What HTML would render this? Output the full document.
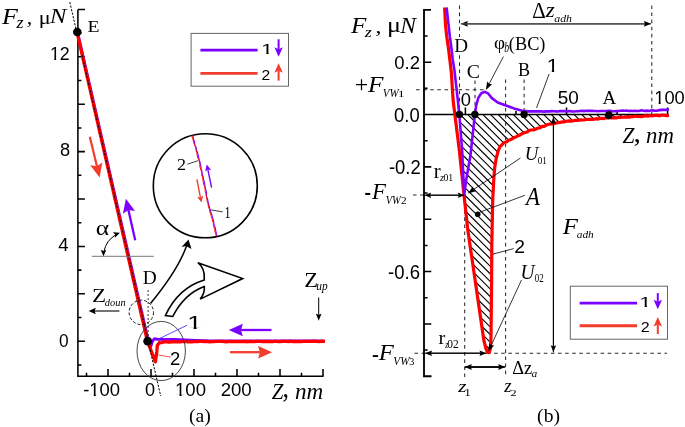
<!DOCTYPE html>
<html><head><meta charset="utf-8"><style>
html,body{margin:0;padding:0;background:#fff;}
svg{display:block;will-change:transform;}
text{font-size:100px;}
.LS{font-family:"Liberation Sans", sans-serif;}
.LR{font-family:"Liberation Serif", serif;}
.ax{stroke:#000;stroke-width:1.55;fill:none;stroke-linecap:butt;}
</style></head><body>
<svg width="685" height="427" viewBox="0 0 685 427">
<rect width="685" height="427" fill="#fff"/>
<path d="M77.9,9.40 H85.0 M77.9,9.40 V376.3 H323.5" class="ax"/>
<path d="M77.9,364.90 h3.5 M77.9,341.20 h7.0 M77.9,317.50 h3.5 M77.9,293.80 h7.0 M77.9,270.10 h3.5 M77.9,246.40 h7.0 M77.9,222.70 h3.5 M77.9,199.00 h7.0 M77.9,175.30 h3.5 M77.9,151.60 h7.0 M77.9,127.90 h3.5 M77.9,104.20 h7.0 M77.9,80.50 h3.5 M77.9,56.80 h7.0 M77.9,33.10 h3.5 M86.50,376.3 v-3.6 M108.00,376.3 v-7.2 M129.50,376.3 v-3.6 M151.00,376.3 v-7.2 M172.50,376.3 v-3.6 M194.00,376.3 v-7.2 M215.50,376.3 v-3.6 M237.00,376.3 v-7.2 M258.50,376.3 v-3.6 M280.00,376.3 v-7.2 M301.50,376.3 v-3.6 M323.00,376.3 v-7.2" class="ax"/>
<rect x="191.1" y="33.4" width="97.4" height="52.8" fill="none" stroke="#666" stroke-width="1"/>
<path d="M200.4,50.1 H257.6" stroke="#7a00ff" stroke-width="2.8"/>
<path d="M200.4,73.4 H257.6" stroke="#f23c2c" stroke-width="2.9"/>
<path d="M278.60,39.30 L278.60,49.30" stroke="#7a00ff" stroke-width="2" fill="none"/><path d="M278.60,56.80 L274.40,47.30 L278.60,49.30 L282.80,47.30 Z" fill="#7a00ff"/>
<path d="M278.60,80.60 L278.60,70.70" stroke="#f23c2c" stroke-width="2" fill="none"/><path d="M278.60,63.20 L282.80,72.70 L278.60,70.70 L274.40,72.70 Z" fill="#f23c2c"/>
<polyline points="77.90,34.00 148.30,341.20 150.50,347.00 152.50,341.00 154.50,338.80 157.50,339.30 175.00,339.60 190.00,340.20 210.00,340.90 323.00,341.00" fill="none" stroke="#7f00ff" stroke-width="3" stroke-linejoin="round"/>
<polyline points="77.00,32.00 77.45,33.96 77.89,35.91 78.34,37.87 78.78,39.83 79.23,41.78 79.67,43.74 80.12,45.70 80.56,47.66 81.01,49.61 81.46,51.57 81.90,53.53 82.35,55.48 82.79,57.44 83.24,59.40 83.68,61.35 84.13,63.31 84.57,65.27 85.02,67.23 85.47,69.18 85.91,71.14 86.36,73.10 86.80,75.05 87.25,77.01 87.69,78.97 88.14,80.92 88.58,82.88 89.03,84.84 89.48,86.79 89.92,88.75 90.37,90.71 90.81,92.67 91.26,94.62 91.70,96.58 92.15,98.54 92.59,100.49 93.04,102.45 93.49,104.41 93.93,106.36 94.38,108.32 94.82,110.28 95.27,112.24 95.71,114.19 96.16,116.15 96.61,118.11 97.05,120.06 97.50,122.02 97.94,123.98 98.39,125.93 98.83,127.89 99.28,129.85 99.72,131.81 100.17,133.76 100.62,135.72 101.06,137.68 101.51,139.63 101.95,141.59 102.40,143.55 102.84,145.50 103.29,147.46 103.73,149.42 104.18,151.37 104.63,153.33 105.07,155.29 105.52,157.25 105.96,159.20 106.41,161.16 106.85,163.12 107.30,165.07 107.74,167.03 108.19,168.99 108.64,170.94 109.08,172.90 109.53,174.86 109.97,176.82 110.42,178.77 110.86,180.73 111.31,182.69 111.75,184.64 112.20,186.60 112.65,188.56 113.09,190.51 113.54,192.47 113.98,194.43 114.43,196.38 114.87,198.34 115.32,200.30 115.76,202.26 116.21,204.21 116.66,206.17 117.10,208.13 117.55,210.08 117.99,212.04 118.44,214.00 118.88,215.95 119.33,217.91 119.77,219.87 120.22,221.83 120.67,223.78 121.11,225.74 121.56,227.70 122.00,229.65 122.45,231.61 122.89,233.57 123.34,235.52 123.78,237.48 124.23,239.44 124.68,241.39 125.12,243.35 125.57,245.31 126.01,247.27 126.46,249.22 126.90,251.18 127.35,253.14 127.79,255.09 128.24,257.05 128.69,259.01 129.13,260.96 129.58,262.92 130.02,264.88 130.47,266.84 130.91,268.79 131.36,270.75 131.81,272.71 132.25,274.66 132.70,276.62 133.14,278.58 133.59,280.53 134.03,282.49 134.48,284.45 134.92,286.41 135.37,288.36 135.82,290.32 136.26,292.28 136.71,294.23 137.15,296.19 137.60,298.15 138.04,300.10 138.49,302.06 138.93,304.02 139.38,305.97 139.83,307.93 140.27,309.89 140.72,311.85 141.16,313.80 141.61,315.76 142.05,317.72 142.50,319.67 142.94,321.63 143.39,323.59 143.84,325.54 144.28,327.50 144.73,329.46 145.17,331.42 145.62,333.37 146.06,335.33 146.51,337.29 146.95,339.24 147.40,341.20 148.13,343.07 148.85,344.95 149.58,346.82 150.31,348.69 151.04,350.56 151.76,352.44 152.49,354.31 153.22,356.18 153.95,358.05 154.67,359.93 155.40,361.80 155.75,359.35 156.10,356.90 156.45,354.45 156.80,352.00 156.97,349.83 157.13,347.67 157.30,345.50 159.50,342.60 159.50,342.83 161.67,342.59 163.83,341.91 166.00,341.69 168.00,342.05 170.00,341.98 172.00,341.93 174.00,341.73 176.00,341.86 178.00,341.85 180.00,341.82 182.00,341.59 184.00,341.71 186.00,341.67 188.00,341.82 190.00,341.94 192.00,341.90 194.00,341.68 196.00,341.61 198.00,341.50 200.00,341.37 202.02,341.36 204.03,341.57 206.05,341.49 208.06,341.52 210.08,341.77 212.10,341.58 214.11,341.60 216.13,341.43 218.15,341.32 220.16,341.46 222.18,341.37 224.19,341.55 226.21,341.79 228.23,341.62 230.24,341.37 232.26,341.72 234.27,341.67 236.29,341.63 238.31,341.71 240.32,341.63 242.34,341.64 244.35,341.42 246.37,341.73 248.39,341.71 250.40,341.31 252.42,341.60 254.44,341.58 256.45,341.45 258.47,341.47 260.48,341.45 262.50,341.66 264.52,341.45 266.53,341.61 268.55,341.36 270.56,341.62 272.58,341.63 274.60,341.40 276.61,341.45 278.63,341.62 280.65,341.52 282.66,341.39 284.68,341.26 286.69,341.30 288.71,341.49 290.73,341.22 292.74,341.58 294.76,341.26 296.77,341.57 298.79,341.27 300.81,341.59 302.82,341.46 304.84,341.35 306.85,341.35 308.87,341.41 310.89,341.38 312.90,341.23 314.92,341.18 316.94,341.33 318.95,341.53 320.97,341.37 322.98,341.09 325.00,341.30" fill="none" stroke="#ff0000" stroke-width="3.3" stroke-linejoin="round"/>
<path d="M69.8,2.1 L76.24,30 M82.0,55 L160.7,396" stroke="#000" stroke-width="1" stroke-dasharray="2.2 1.4" fill="none"/>
<circle cx="77.3" cy="32.0" r="4.3" fill="#000"/>
<circle cx="147.7" cy="341.2" r="4.4" fill="#000"/>
<ellipse cx="161.2" cy="351.0" rx="24.2" ry="29.6" fill="none" stroke="#333" stroke-width="0.9"/>
<path d="M158,339.2 L187,325.3" stroke="#2222ff" stroke-width="0.8" fill="none"/>
<path d="M158.5,355 L170.6,357.1" stroke="#ff2020" stroke-width="0.8" fill="none"/>
<path d="M89.80,136.80 L96.91,166.32" stroke="#f23c2c" stroke-width="2.2" fill="none"/><path d="M99.60,177.50 L90.29,165.34 L96.91,166.32 L102.35,162.44 Z" fill="#f23c2c"/>
<path d="M135.20,240.30 L128.41,209.92" stroke="#7a00ff" stroke-width="2.3" fill="none"/><path d="M125.90,198.70 L135.01,211.01 L128.41,209.92 L122.90,213.72 Z" fill="#7a00ff"/>
<path d="M271.50,330.00 L241.00,330.00" stroke="#7a00ff" stroke-width="2.3" fill="none"/><path d="M228.80,330.00 L242.80,323.70 L241.00,330.00 L242.80,336.30 Z" fill="#7a00ff"/>
<path d="M230.00,352.20 L259.90,352.20" stroke="#f23c2c" stroke-width="2.3" fill="none"/><path d="M272.10,352.20 L258.10,358.50 L259.90,352.20 L258.10,345.90 Z" fill="#f23c2c"/>
<path d="M91.8,256.3 H153.8" stroke="#777" stroke-width="1" fill="none"/>
<path d="M115.50,234.95 A25.0,25.0 0 0 0 104.00,251.33" stroke="#000" stroke-width="1" fill="none"/>
<path d="M120.00,232.79 L114.84,237.63 L115.01,234.59 L112.93,232.37 Z" fill="#000"/>
<path d="M103.50,256.30 L100.70,249.80 L103.50,251.00 L106.30,249.80 Z" fill="#000"/>
<path d="M148.1,290 V337" stroke="#000" stroke-width="0.8" stroke-dasharray="2 2" fill="none"/>
<circle cx="141.3" cy="312.4" r="12.2" fill="none" stroke="#000" stroke-width="0.9" stroke-dasharray="3 2"/>
<path d="M119.40,311.00 L94.70,311.00" stroke="#000" stroke-width="1.1" fill="none"/><path d="M88.70,311.00 L95.70,307.80 L94.70,311.00 L95.70,314.20 Z" fill="#000"/>
<path d="M318.70,297.40 L318.70,314.80" stroke="#000" stroke-width="1" fill="none"/><path d="M318.70,320.80 L315.90,313.80 L318.70,314.80 L321.50,313.80 Z" fill="#000"/>
<path d="M150.5,303.5 Q178,270 186.5,246" stroke="#000" stroke-width="1.5" fill="none"/>
<path d="M188.5,239.5 L181.5,247 L186,246 L191.5,249 Z" fill="#000"/>
<path d="M165.4,315.5 Q178,288 204.3,280 Q205.2,268 197.8,262.7 L242.7,278.5 L200.2,299.1 Q205,293 204.3,286.5 Q184,294 172.8,316.5 Z" fill="#fff" stroke="#000" stroke-width="1.6" stroke-linejoin="miter"/>
<circle cx="205.3" cy="185.8" r="52" fill="#fff" stroke="#000" stroke-width="1.6"/>
<polyline points="192.57,135.50 193.22,137.20 193.54,138.90 194.14,140.60 194.60,142.30 194.65,144.00 195.11,145.75 196.19,147.50 196.28,149.25 196.76,151.00 197.70,152.50 197.73,154.00 198.39,155.50 198.53,157.00 199.05,158.50 199.11,160.00 199.77,161.50 200.26,163.00 200.34,164.50 200.82,166.00 201.09,167.50 200.99,169.00 201.81,170.50 202.01,172.00 202.16,173.50 202.32,175.00 203.23,176.60 203.27,178.20 203.76,179.80 204.20,181.40 204.40,183.00 204.92,184.75 204.93,186.50 205.59,188.25 205.71,190.00 206.35,191.67 206.62,193.33 206.37,195.00 206.70,196.67 207.05,198.33 207.88,200.00 207.96,201.67 208.54,203.33 208.76,205.00 209.36,206.67 209.72,208.33 210.15,210.00 210.78,211.67 211.24,213.33 211.93,215.00 212.24,216.67 212.88,218.33 213.30,220.00 213.77,221.60 213.93,223.20 213.95,224.80 214.82,226.40 215.28,228.00 215.61,229.60 215.76,231.20 216.24,232.80 216.27,234.40 216.85,236.00" stroke="#7f00ff" stroke-width="1.1" fill="none"/>
<polyline points="191.92,135.50 192.26,137.20 192.91,138.90 193.18,140.60 193.56,142.30 194.23,144.00 195.09,145.75 195.51,147.50 195.99,149.25 196.11,151.00 196.73,152.50 196.94,154.00 197.27,155.50 197.62,157.00 198.10,158.50 199.00,160.00 199.26,161.50 199.56,163.00 199.89,164.50 199.79,166.00 200.19,167.50 200.74,169.00 201.14,170.50 201.55,172.00 201.92,173.50 201.71,175.00 202.39,176.60 202.76,178.20 202.96,179.80 203.05,181.40 203.58,183.00 203.69,184.75 204.65,186.50 204.98,188.25 205.13,190.00 205.26,191.67 205.99,193.33 206.05,195.00 206.57,196.67 206.84,198.33 206.91,200.00 207.29,201.67 207.87,203.33 208.20,205.00 208.46,206.67 209.01,208.33 209.82,210.00 209.75,211.67 210.22,213.33 211.09,215.00 211.31,216.67 211.96,218.33 212.38,220.00 212.67,221.60 213.51,223.20 213.33,224.80 213.86,226.40 214.09,228.00 214.77,229.60 214.90,231.20 215.34,232.80 215.99,234.40 216.20,236.00" stroke="#ff0000" stroke-width="1.0" fill="none"/>
<path d="M187.4,164.2 L198,160.7" stroke="#000" stroke-width="0.75"/>
<path d="M210.6,209.8 L222.8,211.9" stroke="#000" stroke-width="0.75"/>
<path d="M211.60,187.70 L207.85,169.59" stroke="#7a00ff" stroke-width="1.4" fill="none"/><path d="M206.80,164.50 L211.15,170.24 L207.85,169.59 L205.08,171.49 Z" fill="#7a00ff"/>
<path d="M196.90,179.30 L200.41,197.40" stroke="#f23c2c" stroke-width="1.4" fill="none"/><path d="M201.40,202.50 L197.12,196.71 L200.41,197.40 L203.21,195.53 Z" fill="#f23c2c"/>
<clipPath id="hc"><polygon points="459.30,114.50 640.00,114.50 635.00,116.40 608.00,118.00 600.00,118.60 581.00,119.90 560.00,122.30 547.80,124.80 538.40,128.10 529.10,130.80 519.70,135.20 510.30,139.80 503.30,143.40 499.80,147.00 498.00,151.50 496.20,158.60 494.80,167.00 493.90,177.00 492.70,200.00 492.10,230.00 491.80,245.00 491.60,280.00 491.00,338.00 490.40,348.50 489.20,352.60 487.60,352.40 485.90,348.50 483.80,340.00 475.10,280.00 467.80,230.00 464.00,195.00 462.10,150.00"/></clipPath>
<path d="M440.00,-217.20 L680.00,22.80 M440.00,-209.60 L680.00,30.40 M440.00,-202.00 L680.00,38.00 M440.00,-194.40 L680.00,45.60 M440.00,-186.80 L680.00,53.20 M440.00,-179.20 L680.00,60.80 M440.00,-171.60 L680.00,68.40 M440.00,-164.00 L680.00,76.00 M440.00,-156.40 L680.00,83.60 M440.00,-148.80 L680.00,91.20 M440.00,-141.20 L680.00,98.80 M440.00,-133.60 L680.00,106.40 M440.00,-126.00 L680.00,114.00 M440.00,-118.40 L680.00,121.60 M440.00,-110.80 L680.00,129.20 M440.00,-103.20 L680.00,136.80 M440.00,-95.60 L680.00,144.40 M440.00,-88.00 L680.00,152.00 M440.00,-80.40 L680.00,159.60 M440.00,-72.80 L680.00,167.20 M440.00,-65.20 L680.00,174.80 M440.00,-57.60 L680.00,182.40 M440.00,-50.00 L680.00,190.00 M440.00,-42.40 L680.00,197.60 M440.00,-34.80 L680.00,205.20 M440.00,-27.20 L680.00,212.80 M440.00,-19.60 L680.00,220.40 M440.00,-12.00 L680.00,228.00 M440.00,-4.40 L680.00,235.60 M440.00,3.20 L680.00,243.20 M440.00,10.80 L680.00,250.80 M440.00,18.40 L680.00,258.40 M440.00,26.00 L680.00,266.00 M440.00,33.60 L680.00,273.60 M440.00,41.20 L680.00,281.20 M440.00,48.80 L680.00,288.80 M440.00,56.40 L680.00,296.40 M440.00,64.00 L680.00,304.00 M440.00,71.60 L680.00,311.60 M440.00,79.20 L680.00,319.20 M440.00,86.80 L680.00,326.80 M440.00,94.40 L680.00,334.40 M440.00,102.00 L680.00,342.00 M440.00,109.60 L680.00,349.60 M440.00,117.20 L680.00,357.20 M440.00,124.80 L680.00,364.80 M440.00,132.40 L680.00,372.40 M440.00,140.00 L680.00,380.00 M440.00,147.60 L680.00,387.60 M440.00,155.20 L680.00,395.20 M440.00,162.80 L680.00,402.80 M440.00,170.40 L680.00,410.40 M440.00,178.00 L680.00,418.00 M440.00,185.60 L680.00,425.60 M440.00,193.20 L680.00,433.20 M440.00,200.80 L680.00,440.80 M440.00,208.40 L680.00,448.40 M440.00,216.00 L680.00,456.00 M440.00,223.60 L680.00,463.60 M440.00,231.20 L680.00,471.20 M440.00,238.80 L680.00,478.80 M440.00,246.40 L680.00,486.40 M440.00,254.00 L680.00,494.00 M440.00,261.60 L680.00,501.60 M440.00,269.20 L680.00,509.20 M440.00,276.80 L680.00,516.80 M440.00,284.40 L680.00,524.40 M440.00,292.00 L680.00,532.00 M440.00,299.60 L680.00,539.60 M440.00,307.20 L680.00,547.20 M440.00,314.80 L680.00,554.80 M440.00,322.40 L680.00,562.40 M440.00,330.00 L680.00,570.00 M440.00,337.60 L680.00,577.60 M440.00,345.20 L680.00,585.20 M440.00,352.80 L680.00,592.80 M440.00,360.40 L680.00,600.40 M440.00,368.00 L680.00,608.00 M440.00,375.60 L680.00,615.60 M440.00,383.20 L680.00,623.20" stroke="#000" stroke-width="1.15" clip-path="url(#hc)" fill="none"/>
<path d="M459.5,5.5 V114" stroke="#2a2a2a" stroke-width="1.05" stroke-dasharray="3.6 3.5" fill="none"/>
<path d="M464.7,196 V377" stroke="#2a2a2a" stroke-width="1.05" stroke-dasharray="3.6 3.5" fill="none"/>
<path d="M505.6,79.5 V377" stroke="#2a2a2a" stroke-width="1.05" stroke-dasharray="3.6 3.5" fill="none"/>
<path d="M475.0,80.5 V114" stroke="#2a2a2a" stroke-width="1.05" stroke-dasharray="3.6 3.5" fill="none"/>
<path d="M524.1,79.5 V114" stroke="#2a2a2a" stroke-width="1.05" stroke-dasharray="3.6 3.5" fill="none"/>
<path d="M651.8,5.4 V114" stroke="#2a2a2a" stroke-width="1.05" stroke-dasharray="3.6 3.5" fill="none"/>
<path d="M416,89.7 H485.4" stroke="#2a2a2a" stroke-width="1.05" stroke-dasharray="3.6 3.5" fill="none"/>
<path d="M413,195 H424" stroke="#2a2a2a" stroke-width="1.05" stroke-dasharray="3.6 3.5" fill="none"/>
<path d="M414.5,353.3 H424 M487,353.3 H667" stroke="#2a2a2a" stroke-width="1.05" stroke-dasharray="3.6 3.5" fill="none"/>
<path d="M431.0,9.87 H424.0 V376.25 H431.5" class="ax" style="stroke-width:1.85"/>
<path d="M424.0,350.08 h3.6 M424.0,323.91 h7.3 M424.0,297.74 h3.6 M424.0,271.57 h7.3 M424.0,245.40 h3.6 M424.0,219.23 h7.3 M424.0,193.06 h3.6 M424.0,166.89 h7.3 M424.0,140.72 h3.6 M424.0,88.38 h3.6 M424.0,62.21 h7.3 M424.0,36.04 h3.6 M465.40,114.5 v-7 M515.95,114.5 v-3.5 M566.50,114.5 v-7 M617.05,114.5 v-3.5 M667.60,114.5 v-7" class="ax"/>
<path d="M424.0,114.5 H668" stroke="#000" stroke-width="1.35"/>
<polyline points="444.60,7.50 445.50,25.00 446.80,37.00 448.40,48.00 449.90,60.00 451.30,72.00 453.10,100.00 454.80,114.00 459.30,150.00 464.00,195.00 467.80,230.00 475.10,280.00 483.80,340.00 485.90,348.50 487.60,352.40 489.20,352.60 490.40,348.50 491.00,338.00 491.60,280.00 491.80,245.00 492.10,230.00 492.70,200.00 493.90,177.00 494.80,167.00 496.20,158.60 498.00,151.50 499.80,147.00 503.30,143.40 503.30,143.24 505.05,142.19 506.80,141.74 508.55,140.32 510.30,139.83 512.18,138.76 514.06,137.56 515.94,137.05 517.82,135.70 519.70,135.14 521.58,133.93 523.46,133.07 525.34,132.49 527.22,131.97 529.10,130.46 530.96,130.01 532.82,129.83 534.68,129.58 536.54,128.71 538.40,128.01 540.28,127.87 542.16,126.37 544.04,126.44 545.92,125.27 547.80,124.48 549.83,124.04 551.87,123.79 553.90,123.83 555.93,122.85 557.97,122.79 560.00,122.43 561.91,121.97 563.82,121.91 565.73,121.25 567.64,121.03 569.55,120.94 571.45,121.15 573.36,120.71 575.27,120.39 577.18,120.41 579.09,120.08 581.00,119.72 582.90,120.03 584.80,119.82 586.70,119.28 588.60,119.45 590.50,119.27 592.40,119.46 594.30,119.20 596.20,118.67 598.10,119.16 600.00,118.26 602.00,118.38 604.00,118.53 606.00,117.84 608.00,117.99 609.80,117.48 611.60,117.94 613.40,117.92 615.20,117.64 617.00,117.80 618.80,117.19 620.60,117.43 622.40,117.23 624.20,117.11 626.00,116.89 627.80,117.13 629.60,117.12 631.40,116.59 633.20,116.65 635.00,116.00 636.89,116.52 638.78,116.41 640.67,116.66 642.56,116.45 644.44,115.90 646.33,115.93 648.22,116.12 650.11,115.48 652.00,115.82 653.89,115.49 655.78,115.38 657.67,115.27 659.56,115.85 661.44,115.21 663.33,115.26 665.22,115.32 667.11,115.70 669.00,115.30" fill="none" stroke="#ff0000" stroke-width="3.2" stroke-linejoin="round"/>
<polyline points="446.60,7.50 448.00,20.00 449.90,37.00 451.40,48.00 452.80,60.00 454.40,70.00 457.80,100.00 459.30,114.30 462.10,150.00 464.20,194.50 466.20,180.00 470.50,155.00 474.90,114.30 476.20,105.50 478.30,97.90 481.30,93.30 484.90,91.80 488.00,93.30 491.60,97.90 497.70,102.50 505.90,105.50 514.00,108.40 522.20,110.80 528.40,111.40 540.00,111.40 540.00,111.37 542.00,111.42 544.00,111.63 546.00,111.34 548.00,111.35 550.00,111.39 552.00,111.13 554.00,111.31 556.00,111.37 558.00,111.46 560.00,111.02 562.00,111.14 564.00,110.99 566.00,111.41 568.00,111.33 570.00,110.93 572.00,111.48 574.00,111.45 576.00,111.25 578.00,111.22 580.00,110.93 582.00,110.83 584.00,111.12 586.00,110.83 588.00,110.89 590.00,110.91 592.00,110.77 594.00,111.02 596.00,110.99 598.00,111.22 600.00,111.01 602.04,111.07 604.07,110.97 606.11,111.05 608.15,110.92 610.19,110.79 612.22,111.21 614.26,111.19 616.30,111.09 618.33,110.99 620.37,110.74 622.41,110.67 624.44,110.70 626.48,110.55 628.52,110.95 630.56,110.72 632.59,110.97 634.63,110.68 636.67,111.01 638.70,110.93 640.74,110.40 642.78,110.51 644.81,110.92 646.85,110.64 648.89,110.93 650.93,110.57 652.96,110.36 655.00,110.68 657.33,110.60 659.67,110.13 662.00,109.85 664.33,109.73 666.67,109.85 669.00,109.30" fill="none" stroke="#7f00ff" stroke-width="2.6" stroke-linejoin="round"/>
<rect x="454" y="37" width="14" height="18" fill="#fff"/>
<circle cx="459.4" cy="114.4" r="3.7" fill="#000"/>
<circle cx="474.9" cy="114.4" r="3.7" fill="#000"/>
<circle cx="524.1" cy="114.4" r="3.7" fill="#000"/>
<ellipse cx="608.8" cy="115.2" rx="3.6" ry="4.1" fill="#000"/>
<circle cx="477.7" cy="214.2" r="2.8" fill="#000"/>
<path d="M651.00,23.80 L467.00,23.80" stroke="#4a4a4a" stroke-width="1.2" fill="none"/><path d="M460.80,23.80 L467.80,20.90 L467.00,23.80 L467.80,26.70 Z" fill="#000"/>
<path d="M460.80,23.80 L644.80,23.80" stroke="#4a4a4a" stroke-width="1.2" fill="none"/><path d="M651.00,23.80 L644.00,26.70 L644.80,23.80 L644.00,20.90 Z" fill="#000"/>
<path d="M503.40,56.60 L489.15,83.80" stroke="#000" stroke-width="0.8" fill="none"/><path d="M485.90,90.00 L487.13,81.61 L489.15,83.80 L492.09,84.21 Z" fill="#000"/>
<path d="M520.50,158.00 L473.61,189.50" stroke="#000" stroke-width="0.8" fill="none"/><path d="M467.80,193.40 L472.88,186.61 L473.61,189.50 L476.00,191.26 Z" fill="#000"/>
<path d="M521.50,280.00 L491.24,345.25" stroke="#000" stroke-width="0.8" fill="none"/><path d="M488.30,351.60 L489.13,343.16 L491.24,345.25 L494.21,345.52 Z" fill="#000"/>
<path d="M553.40,352.30 L553.40,123.00" stroke="#000" stroke-width="1" fill="none"/><path d="M553.40,117.00 L556.10,124.00 L553.40,123.00 L550.70,124.00 Z" fill="#000"/>
<path d="M553.40,117.00 L553.40,346.30" stroke="#000" stroke-width="1" fill="none"/><path d="M553.40,352.30 L550.70,345.30 L553.40,346.30 L556.10,345.30 Z" fill="#000"/>
<path d="M464.30,195.20 L430.10,195.20" stroke="#000" stroke-width="1" fill="none"/><path d="M424.60,195.20 L431.10,192.40 L430.10,195.20 L431.10,198.00 Z" fill="#000"/>
<path d="M424.60,195.20 L458.80,195.20" stroke="#000" stroke-width="1" fill="none"/><path d="M464.30,195.20 L457.80,198.00 L458.80,195.20 L457.80,192.40 Z" fill="#000"/>
<path d="M486.50,353.20 L431.00,353.20" stroke="#000" stroke-width="1" fill="none"/><path d="M425.00,353.20 L432.00,350.40 L431.00,353.20 L432.00,356.00 Z" fill="#000"/>
<path d="M425.00,353.20 L480.50,353.20" stroke="#000" stroke-width="1" fill="none"/><path d="M486.50,353.20 L479.50,356.00 L480.50,353.20 L479.50,350.40 Z" fill="#000"/>
<path d="M505.20,367.00 L470.80,367.00" stroke="#000" stroke-width="1.3" fill="none"/><path d="M464.80,367.00 L471.80,364.00 L470.80,367.00 L471.80,370.00 Z" fill="#000"/>
<path d="M464.80,367.00 L499.20,367.00" stroke="#000" stroke-width="1.3" fill="none"/><path d="M505.20,367.00 L498.20,370.00 L499.20,367.00 L498.20,364.00 Z" fill="#000"/>
<path d="M550,71.6 L536.5,108" stroke="#000" stroke-width="0.8" fill="none"/>
<path d="M524.9,195.3 L480,212.1" stroke="#000" stroke-width="0.8" fill="none"/>
<path d="M492.6,254.2 L513.7,248.6" stroke="#000" stroke-width="0.8" fill="none"/>
<rect x="570.3" y="286.2" width="97.2" height="53" fill="none" stroke="#666" stroke-width="1"/>
<path d="M579.6,303.1 H637.1" stroke="#7a00ff" stroke-width="2.8"/>
<path d="M579.6,325.8 H637.1" stroke="#f23c2c" stroke-width="2.9"/>
<path d="M657.80,293.10 L657.80,301.80" stroke="#7a00ff" stroke-width="2" fill="none"/><path d="M657.80,309.30 L653.60,299.80 L657.80,301.80 L662.00,299.80 Z" fill="#7a00ff"/>
<path d="M657.80,334.10 L657.80,324.40" stroke="#f23c2c" stroke-width="2" fill="none"/><path d="M657.80,316.90 L662.00,326.40 L657.80,324.40 L653.60,326.40 Z" fill="#f23c2c"/>
<text class="LR" font-style="italic" transform="matrix(0.25934 0 0 0.22749 2.004 23.740)">F</text>
<text class="LR" font-style="italic" transform="matrix(0.18095 0 0 0.15873 16.517 28.224)">z</text>
<text class="LR" transform="matrix(0.22000 0 0 0.19600 26.820 23.660)">,</text>
<text class="LR" transform="matrix(0.22232 0 0 0.18400 38.844 24.200)">μ</text>
<text class="LR" font-style="italic" transform="matrix(0.24991 0 0 0.21949 49.712 23.127)">N</text>
<text class="LR" transform="matrix(0.19650 0 0 0.17489 87.397 31.560)">E</text>
<text class="LS" transform="matrix(0.17838 0 0 0.17866 49.896 59.824)">12</text><g transform="matrix(0.17838 0 0 0.17866 49.896 59.824)"><rect x="4.88" y="-10.50" width="19.14" height="20.51" fill="#fff"/><rect x="35.11" y="-10.50" width="18.60" height="20.51" fill="#fff"/></g>
<text class="LS" transform="matrix(0.18222 0 0 0.17841 60.054 155.537)">8</text>
<text class="LS" transform="matrix(0.18627 0 0 0.18971 58.227 251.490)">4</text>
<text class="LS" transform="matrix(0.17292 0 0 0.18732 59.108 347.313)">0</text>
<text class="LS" transform="matrix(0.18451 0 0 0.19226 83.167 396.123)">-100</text><g transform="matrix(0.18451 0 0 0.19226 83.167 396.123)"><rect x="38.18" y="-10.50" width="19.14" height="20.51" fill="#fff"/><rect x="68.41" y="-10.50" width="18.60" height="20.51" fill="#fff"/></g>
<text class="LS" transform="matrix(0.18125 0 0 0.18732 144.875 396.313)">0</text>
<text class="LS" transform="matrix(0.18553 0 0 0.19002 175.059 396.215)">100</text><g transform="matrix(0.18553 0 0 0.19002 175.059 396.215)"><rect x="4.88" y="-10.50" width="19.14" height="20.51" fill="#fff"/><rect x="35.11" y="-10.50" width="18.60" height="20.51" fill="#fff"/></g>
<text class="LS" transform="matrix(0.18608 0 0 0.18732 220.670 396.313)">200</text>
<text class="LR" font-style="italic" transform="matrix(0.20878 0 0 0.23602 271.712 399.100)">Z</text>
<text class="LR" transform="matrix(0.26000 0 0 0.28400 282.560 397.240)">,</text>
<text class="LR" font-style="italic" transform="matrix(0.23112 0 0 0.22396 294.901 399.420)">nm</text>
<text class="LR" transform="matrix(0.19714 0 0 0.19761 188.896 422.030)">(a)</text>
<text class="LR" transform="matrix(0.25557 0 0 0.20811 95.817 234.705)">α</text>
<text class="LR" transform="matrix(0.19382 0 0 0.18184 142.825 283.580)">D</text>
<text class="LR" transform="matrix(0.23081 0 0 0.19757 92.068 302.020)">Z</text>
<text class="LR" font-style="italic" transform="matrix(0.10415 0 0 0.10714 104.788 306.293)">doun</text>
<text class="LR" transform="matrix(0.22565 0 0 0.19993 304.182 286.700)">Z</text>
<text class="LR" font-style="italic" transform="matrix(0.11464 0 0 0.11622 316.311 289.974)">up</text>
<text class="LS" transform="matrix(0.26337 0 0 0.18622 187.340 329.158)">1</text><g transform="matrix(0.26337 0 0 0.18622 187.340 329.158)"><rect x="4.88" y="-10.50" width="19.14" height="20.51" fill="#fff"/><rect x="35.11" y="-10.50" width="18.60" height="20.51" fill="#fff"/></g>
<text class="LS" transform="matrix(0.18478 0 0 0.18714 169.976 365.100)">2</text>
<text class="LR" transform="matrix(0.18123 0 0 0.17271 177.004 169.873)">2</text>
<text class="LR" transform="matrix(0.12191 0 0 0.16364 224.556 218.320)">1</text>
<text class="LS" transform="matrix(0.21854 0 0 0.14857 261.022 54.380)">1</text><g transform="matrix(0.21854 0 0 0.14857 261.022 54.380)"><rect x="4.88" y="-10.50" width="19.14" height="20.51" fill="#fff"/><rect x="35.11" y="-10.50" width="18.60" height="20.51" fill="#fff"/></g>
<text class="LS" transform="matrix(0.15652 0 0 0.15429 261.517 79.500)">2</text>
<text class="LR" font-style="italic" transform="matrix(0.25198 0 0 0.22393 351.000 33.200)">F</text>
<text class="LR" font-style="italic" transform="matrix(0.18118 0 0 0.15027 364.834 37.460)">z</text>
<text class="LR" transform="matrix(0.25551 0 0 0.18987 375.185 33.081)">,</text>
<text class="LR" transform="matrix(0.26167 0 0 0.20913 387.094 32.136)">μ</text>
<text class="LR" font-style="italic" transform="matrix(0.23619 0 0 0.23557 400.179 32.880)">N</text>
<text class="LR" transform="matrix(0.19149 0 0 0.18604 454.334 52.360)">D</text>
<text class="LR" transform="matrix(0.20996 0 0 0.22443 532.190 17.550)">Δ</text>
<text class="LR" font-style="italic" transform="matrix(0.22959 0 0 0.21032 545.682 17.420)">z</text>
<text class="LR" font-style="italic" transform="matrix(0.11845 0 0 0.10963 554.261 22.221)">adh</text>
<text class="LR" transform="matrix(0.19173 0 0 0.18784 494.052 49.256)">φ</text>
<text class="LR" font-style="italic" transform="matrix(0.09726 0 0 0.15057 504.336 52.024)">b</text>
<text class="LR" transform="matrix(0.18291 0 0 0.19083 508.839 50.161)">(BC)</text>
<text class="LR" transform="matrix(0.19704 0 0 0.19760 466.785 78.468)">C</text>
<text class="LR" transform="matrix(0.18096 0 0 0.18271 517.992 75.800)">B</text>
<text class="LS" transform="matrix(0.21324 0 0 0.19123 546.696 72.054)">1</text><g transform="matrix(0.21324 0 0 0.19123 546.696 72.054)"><rect x="4.88" y="-10.50" width="19.14" height="20.51" fill="#fff"/><rect x="35.11" y="-10.50" width="18.60" height="20.51" fill="#fff"/></g>
<text class="LS" transform="matrix(0.18538 0 0 0.18451 394.258 69.115)">0.2</text>
<text class="LR" transform="matrix(0.23921 0 0 0.23750 354.644 92.372)">+</text>
<text class="LR" font-style="italic" transform="matrix(0.25341 0 0 0.23667 368.006 92.340)">F</text>
<text class="LR" font-style="italic" transform="matrix(0.11062 0 0 0.12809 382.769 96.811)">VW</text>
<text class="LR" transform="matrix(0.13936 0 0 0.08358 397.664 97.285)">1</text>
<text class="LS" transform="matrix(0.18333 0 0 0.18451 460.667 105.515)">0</text>
<text class="LS" transform="matrix(0.18978 0 0 0.19264 557.805 103.613)">50</text>
<text class="LR" transform="matrix(0.19100 0 0 0.18219 602.589 104.463)">A</text>
<text class="LS" transform="matrix(0.18329 0 0 0.18524 654.213 103.813)">100</text><g transform="matrix(0.18329 0 0 0.18524 654.213 103.813)"><rect x="4.88" y="-10.50" width="19.14" height="20.51" fill="#fff"/><rect x="35.11" y="-10.50" width="18.60" height="20.51" fill="#fff"/></g>
<text class="LS" transform="matrix(0.18432 0 0 0.19352 394.076 121.731)">0.0</text>
<text class="LR" font-style="italic" transform="matrix(0.21490 0 0 0.22393 622.565 143.000)">Z</text>
<text class="LR" transform="matrix(0.29345 0 0 0.27553 633.532 141.603)">,</text>
<text class="LR" font-style="italic" transform="matrix(0.22817 0 0 0.22435 646.023 142.966)">nm</text>
<text class="LR" font-style="italic" transform="matrix(0.18863 0 0 0.19176 524.803 160.375)">U</text>
<text class="LR" transform="matrix(0.09127 0 0 0.10638 537.746 163.964)">01</text>
<text class="LS" transform="matrix(0.18416 0 0 0.19294 388.960 173.725)">-0.2</text>
<text class="LR" transform="matrix(0.20859 0 0 0.20013 433.744 177.756)">r</text>
<text class="LR" font-style="italic" transform="matrix(0.10416 0 0 0.09820 439.958 180.677)">z</text>
<text class="LR" transform="matrix(0.09766 0 0 0.10047 443.458 180.995)">01</text>
<text class="LR" transform="matrix(0.19231 0 0 0.27143 364.531 200.329)">-</text>
<text class="LR" font-style="italic" transform="matrix(0.22855 0 0 0.22198 372.090 198.800)">F</text>
<text class="LR" font-style="italic" transform="matrix(0.10468 0 0 0.12910 385.652 204.069)">VW</text>
<text class="LR" transform="matrix(0.11232 0 0 0.10286 401.036 203.991)">2</text>
<text class="LR" font-style="italic" transform="matrix(0.22747 0 0 0.24320 525.940 204.740)">A</text>
<text class="LR" font-style="italic" transform="matrix(0.24886 0 0 0.24044 562.844 234.100)">F</text>
<text class="LR" font-style="italic" transform="matrix(0.11337 0 0 0.10414 576.783 237.998)">adh</text>
<text class="LS" transform="matrix(0.19348 0 0 0.19286 514.133 253.400)">2</text>
<text class="LS" transform="matrix(0.18516 0 0 0.19443 388.083 278.998)">-0.6</text>
<text class="LR" font-style="italic" transform="matrix(0.19472 0 0 0.21929 520.468 279.155)">U</text>
<text class="LR" transform="matrix(0.08844 0 0 0.11911 534.729 281.745)">02</text>
<text class="LR" transform="matrix(0.20568 0 0 0.18737 438.614 344.476)">r</text>
<text class="LR" font-style="italic" transform="matrix(0.07674 0 0 0.09811 445.216 348.140)">z</text>
<text class="LR" transform="matrix(0.11440 0 0 0.11501 447.270 347.621)">02</text>
<text class="LR" transform="matrix(0.20654 0 0 0.24204 372.014 361.676)">-</text>
<text class="LR" font-style="italic" transform="matrix(0.24684 0 0 0.22272 378.653 360.300)">F</text>
<text class="LR" font-style="italic" transform="matrix(0.11323 0 0 0.12240 393.248 364.573)">VW</text>
<text class="LR" transform="matrix(0.10202 0 0 0.11322 409.319 365.209)">3</text>
<text class="LR" transform="matrix(0.18348 0 0 0.18754 512.311 373.980)">Δz</text>
<text class="LR" font-style="italic" transform="matrix(0.11482 0 0 0.10402 531.454 377.212)">a</text>
<text class="LR" font-style="italic" transform="matrix(0.21118 0 0 0.17518 458.152 392.414)">z</text>
<text class="LR" transform="matrix(0.13195 0 0 0.09367 464.254 395.797)">1</text>
<text class="LR" font-style="italic" transform="matrix(0.18643 0 0 0.18055 504.294 391.546)">z</text>
<text class="LR" transform="matrix(0.12929 0 0 0.09247 510.225 395.674)">2</text>
<text class="LS" transform="matrix(0.21870 0 0 0.14282 639.352 307.312)">1</text><g transform="matrix(0.21870 0 0 0.14282 639.352 307.312)"><rect x="4.88" y="-10.50" width="19.14" height="20.51" fill="#fff"/><rect x="35.11" y="-10.50" width="18.60" height="20.51" fill="#fff"/></g>
<text class="LS" transform="matrix(0.16067 0 0 0.15475 640.786 332.055)">2</text>
<text class="LR" transform="matrix(0.19617 0 0 0.19696 537.101 421.707)">(b)</text>
</svg>
</body></html>
